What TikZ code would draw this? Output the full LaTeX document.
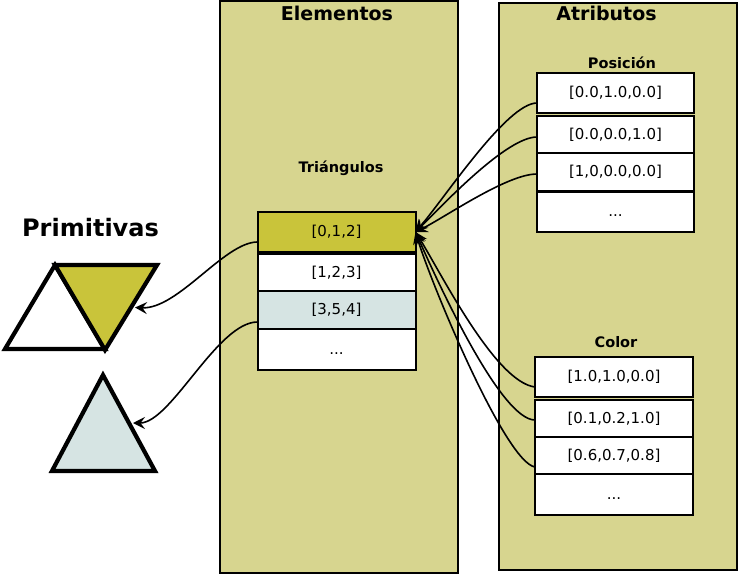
\documentclass[tikz,border=0pt]{standalone}
\usepackage{fontspec}
\setmainfont{DejaVu Sans}
\usetikzlibrary{arrows.meta,calc}
\definecolor{panel}{HTML}{D7D58F}
\definecolor{yel}{HTML}{C9C43A}
\definecolor{lblue}{HTML}{D6E4E3}
\begin{document}
\begin{tikzpicture}[x=1pt,y=-1pt,
  panelbox/.style={draw=black,line width=1.5pt,fill=panel},
  cell/.style={draw=black,line width=2pt,fill=white,inner sep=0pt,outer sep=0pt,
    font=\fontsize{15}{18}\selectfont,text height=11.4pt,text depth=2pt},
  ecell/.style={cell,minimum width=158pt},
  pcell/.style={cell,minimum width=157pt},
  title/.style={font=\fontsize{19}{22}\selectfont\bfseries,anchor=base,inner sep=0pt},
  sublabel/.style={font=\fontsize{14.5}{17}\selectfont\bfseries,anchor=base,inner sep=0pt},
  tri/.style={draw=black,line width=4.2pt,line join=miter},
  conn/.style={line width=1.6pt,-{Stealth[length=12pt,width=12pt,inset=4.5pt]}}]
\useasboundingbox (0,0) rectangle (739,575);

% panels
\draw[panelbox] (220,1) rectangle (458,573);
\draw[panelbox] (499,3) rectangle (737,570);
\node[title] (telem) at (337,21) {Elementos};
\node[title] (tatri) at (606.5,21) {Atributos};

% primitives
\node[font=\fontsize{24}{28}\selectfont\bfseries,anchor=base,inner sep=0pt] (tprim) at (90.5,236) {Primitivas};
\coordinate (wa) at (55,265);
\coordinate (wb) at (5,349);
\coordinate (wc) at (105,349);
\coordinate (ya) at (55,265);
\coordinate (yb) at (157,265);
\coordinate (yc) at (105,350);
\coordinate (ba) at (103,375);
\coordinate (bb) at (52,471);
\coordinate (bc) at (155,471);
\draw[tri,fill=white] (wa) -- (wb) -- (wc) -- cycle;
\draw[tri,fill=yel] (ya) -- (yb) -- (yc) -- cycle;
\draw[tri,fill=lblue] (ba) -- (bb) -- (bc) -- cycle;
\coordinate (yedge) at ($(yb)!0.5!(yc)+(4,0)$);
\coordinate (bedge) at ($(ba)!0.5!(bc)+(4,0)$);

% Triangulos
\node[sublabel] (ttri) at (341,172) {Triángulos};
\node[ecell,fill=yel,minimum height=40pt] (t0) at (336.5,232) {[0,1,2]};
\node[ecell,minimum height=37pt] (t1) at (336.5,272.5) {[1,2,3]};
\node[ecell,fill=lblue,minimum height=38pt] (t2) at (336.5,310) {[3,5,4]};
\node[ecell,minimum height=41pt] (t3) at (336.5,349.5) {...};

% Posicion
\node[sublabel] (tpos) at (622,69) {Posición};
\node[pcell,minimum height=40pt] (p1) at (615.5,93) {[0.0,1.0,0.0]};
\node[pcell,minimum height=37pt] (p2) at (615.5,134.5) {[0.0,0.0,1.0]};
\node[pcell,minimum height=38pt] (p3) at (615.5,172) {[1,0,0.0,0.0]};
\node[pcell,minimum height=40pt] (p4) at (615.5,211.5) {...};

% Color
\node[sublabel] (tcol) at (616,347) {Color};
\node[ecell,minimum height=40pt] (c1) at (614,377) {[1.0,1.0,0.0]};
\node[ecell,minimum height=37pt] (c2) at (614,418.5) {[0.1,0.2,1.0]};
\node[ecell,minimum height=37pt] (c3) at (614,455.5) {[0.6,0.7,0.8]};
\node[ecell,minimum height=41pt] (c4) at (614,494.5) {...};

% connectors to primitives
\draw[conn] ([yshift=-10pt]t0.west) .. controls +(-33,0) and +(43,2) .. (yedge);
\draw[conn] ([yshift=-12pt]t2.west) .. controls +(-40,0) and +(38,0) .. (bedge);

% connectors from attributes
\draw[conn] ([yshift=-10pt]p1.west) .. controls +(-30,0) and +(30,-35) .. (t0.east);
\draw[conn] ([yshift=-2.5pt]p2.west) .. controls +(-30,0) and +(30,-30) .. (t0.east);
\draw[conn] ([yshift=-2pt]p3.west) .. controls +(-30,0) and +(30,-15) .. (t0.east);
\draw[conn] ([yshift=-10pt]c1.west) .. controls +(-40,-5) and +(25,40) .. (t0.east);
\draw[conn] ([yshift=-1.5pt]c2.west) .. controls +(-35,0) and +(20,45) .. (t0.east);
\draw[conn] ([yshift=-11.5pt]c3.west) .. controls +(-30,-5) and +(15,50) .. (t0.east);
\end{tikzpicture}
\end{document}
